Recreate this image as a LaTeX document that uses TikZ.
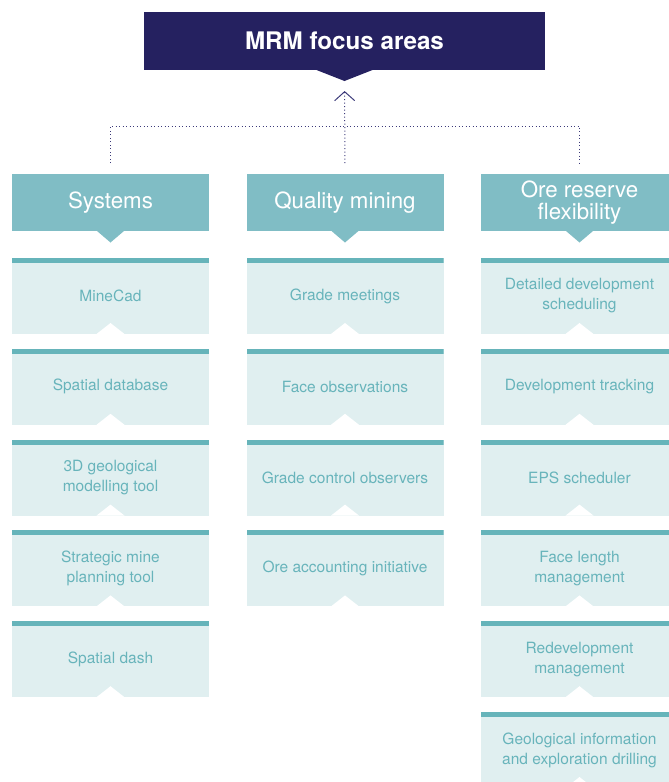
\documentclass[tikz,border=0pt]{standalone}
\usepackage{fontspec}
\setmainfont{TeX Gyre Heros}
\usetikzlibrary{positioning, arrows.meta}
\definecolor{navy}{HTML}{252160}
\definecolor{headfill}{HTML}{80BDC5}
\definecolor{itemfill}{HTML}{E0EFF0}
\definecolor{itembar}{HTML}{66B4BA}
\definecolor{itemtext}{HTML}{68B4BB}
\definecolor{linkcol}{HTML}{3C3A7A}
\tikzset{
x=1pt, y=-1pt, % one unit is one pixel, y runs downwards
node distance=14.8pt, % gap between two stacked boxes
every node/.style={outer sep=0pt},
title/.style={fill=navy, text=white, font=\bfseries\fontsize{24.2}{28}\selectfont, minimum width=401pt, minimum height=58pt, inner sep=0pt},
head/.style={fill=headfill, text=white, font=\fontsize{22.3}{22}\selectfont, align=center, minimum width=197pt, minimum height=57pt, inner sep=0pt},
item/.style={fill=itemfill, text=itemtext, font=\fontsize{15.5}{20}\selectfont, align=center, minimum width=197pt, minimum height=76pt, inner sep=0pt,
  path picture={ % bar on top, notch cut out at the bottom
    \fill[itembar] (path picture bounding box.north west) rectangle ([yshift=-5pt]path picture bounding box.north east);
    \fill[white] ([xshift=-14pt]path picture bounding box.south) -- ([yshift=11pt]path picture bounding box.south) -- ([xshift=14pt]path picture bounding box.south) -- cycle;
  }},
link/.style={draw=linkcol, line width=1pt, dash pattern=on 1pt off 2.5pt}, % dotted connectors
}
\begin{document}
\begin{tikzpicture}
\useasboundingbox (0,0) rectangle (669,782);
\clip (0,0) rectangle (669,782);

\node[title] (title) at (344.5,41) {MRM focus areas};
\fill[navy] ([xshift=-28pt]title.south) -- ([yshift=-11pt]title.south) -- ([xshift=28pt]title.south) -- cycle;

\node[head] (sys) at (110.5,202.5) {Systems};
\node[head, right=37.5pt of sys] (qual) {Quality mining};
\node[head, right=37.5pt of qual] (ore) {Ore reserve\\flexibility};
\foreach \n in {sys, qual, ore}
  \fill[headfill] ([xshift=-13.5pt]\n.south) -- ([yshift=-11.5pt]\n.south) -- ([xshift=13.5pt]\n.south) -- cycle;

% Systems
\node[item, below=27pt of sys] (sys1) {MineCad};
\node[item, below=of sys1] (sys2) {Spatial database};
\node[item, below=of sys2] (sys3) {3D geological\\modelling tool};
\node[item, below=of sys3] (sys4) {Strategic mine\\planning tool};
\node[item, below=of sys4] (sys5) {Spatial dash};

% Quality mining
\node[item, below=27pt of qual] (qual1) {Grade meetings};
\node[item, below=of qual1] (qual2) {Face observations};
\node[item, below=of qual2] (qual3) {Grade control observers};
\node[item, below=of qual3] (qual4) {Ore accounting initiative};

% Ore reserve flexibility
\node[item, below=27pt of ore] (ore1) {Detailed development\\scheduling};
\node[item, below=of ore1] (ore2) {Development tracking};
\node[item, below=of ore2] (ore3) {EPS scheduler};
\node[item, below=of ore3] (ore4) {Face length\\management};
\node[item, below=of ore4] (ore5) {Redevelopment\\management};
\node[item, below=of ore5] (ore6) {Geological information\\and exploration drilling};

\coordinate[above=48pt of qual.north] (hub);
\draw[link, shorten <=11pt, shorten >=11pt] (sys.north) |- (hub) -| (ore.north);
\draw[link, shorten <=11pt, shorten >=21pt, -{Straight Barb[length=9pt, width=20pt, line width=1pt]}] (qual.north) -- (title.south);
\end{tikzpicture}
\end{document}
